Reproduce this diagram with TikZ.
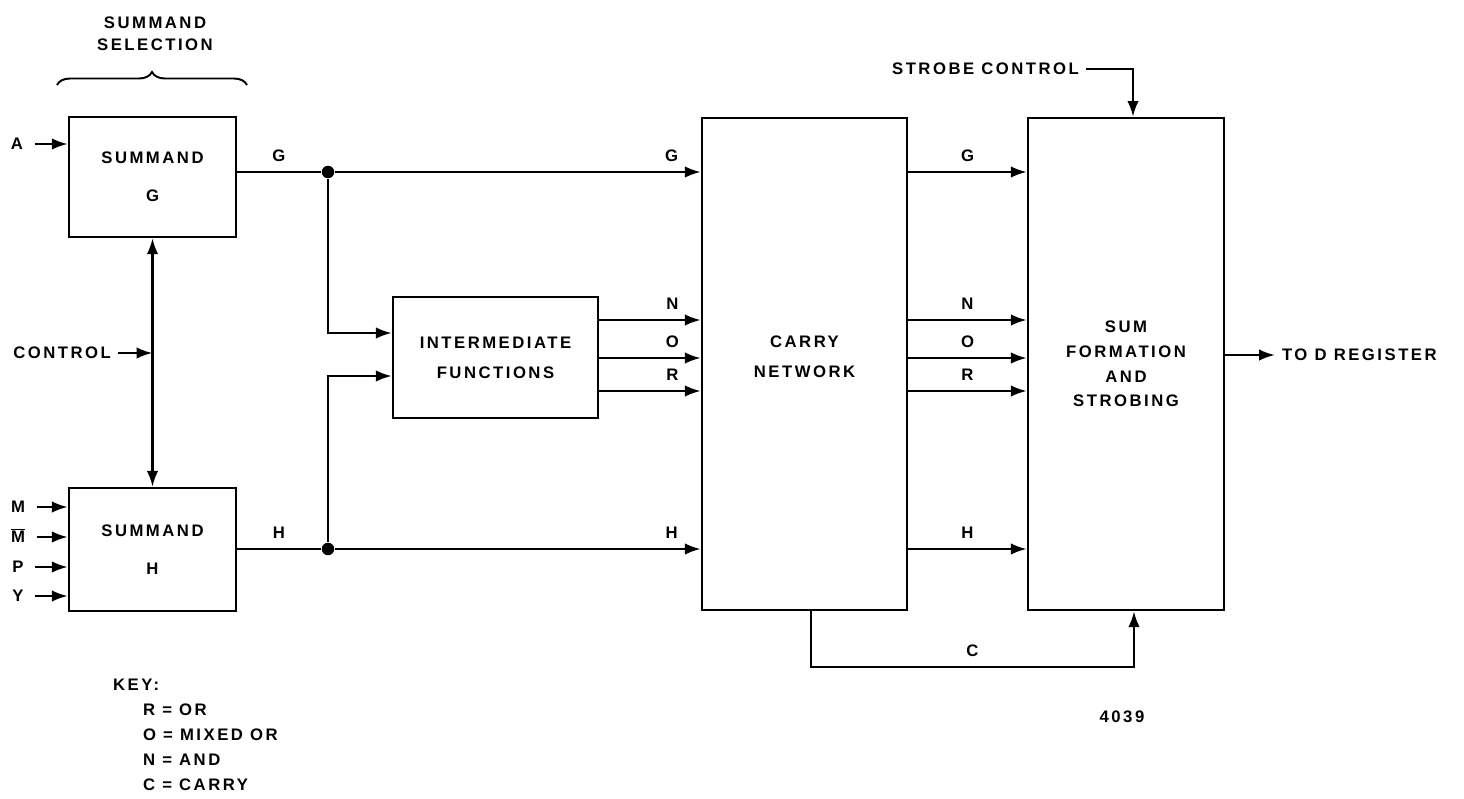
\documentclass[tikz,border=0pt]{standalone}
\usepackage{fontspec}
\setmainfont[LetterSpace=15]{Liberation Sans}
\usetikzlibrary{arrows.meta, positioning, decorations.pathreplacing}

\begin{document}
\begin{tikzpicture}[x=0.02cm, y=-0.02cm, line width=1.4pt,
    >={Latex[length=9pt,width=6.5pt]}, font=\fontsize{9.5}{14}\selectfont\bfseries]
    \tikzstyle{block}=[draw, align=center, inner sep=0pt]
    \tikzstyle{sig}=[above=2pt]
    \tikzstyle{inlab}=[text height=6.8pt, text depth=0pt, inner xsep=6pt]
    \tikzstyle{dot}=[circle, fill, inner sep=0pt, minimum size=0.25cm]

    \useasboundingbox (0,0) rectangle (1464,798);

    % Draw the blocks
    \node[block, minimum width=3.34cm, minimum height=2.4cm] (sumG) at (152.5,177) {SUMMAND\\[7.5pt]G};
    \node[block, minimum width=3.34cm, minimum height=2.46cm] (sumH) at (152.5,549.5) {SUMMAND\\[7.5pt]H};
    \node[block, minimum width=4.1cm, minimum height=2.42cm] (inter) at (495.5,357.5) {INTERMEDIATE\\[3pt]FUNCTIONS};
    \node[block, minimum width=4.1cm, minimum height=9.84cm,
        label={[name=carrytxt, align=center, yshift=0.14cm]center:CARRY\\[3pt]NETWORK}] (carry) at (804.5,364) {};
    \node[block, minimum width=3.92cm, minimum height=9.84cm] (sumf) at (1126,364) {SUM\\FORMATION\\AND\\STROBING};

    % Summand selection brace
    \node[align=center] (selhead) at (155,34) {SUMMAND\\[-1.5pt]SELECTION};
    \draw[decorate, decoration={brace, amplitude=0.26cm}, line width=1.1pt] (57,85) -- (247,85);

    % Inputs of the summand blocks
    \node[inlab] (inA) at (17,144) {A};
    \draw[->] (inA) -- (inA -| sumG.west);
    \foreach \name / \txt / \y in {m/M/507, mbar/{$\overline{\hbox{M}}$}/537, p/P/567, y/Y/596}
    {
        \node[inlab] (in-\name) at (18,\y) {\txt};
        \draw[->] (in-\name) -- (in-\name -| sumH.west);
    }

    % Control between the summand blocks
    \node[anchor=east] (ctrl) at (118,353) {CONTROL};
    \draw[<->] (sumG) -- (sumH);
    \draw[->] (ctrl) -- (ctrl -| sumG.south);

    % G and H to the carry network
    \node[dot] (gdot) at (328,172) {};
    \node[dot] (hdot) at (328,549) {};
    \draw (sumG.east |- gdot) -- node[sig] {G} (gdot);
    \draw (sumH.east |- hdot) -- node[sig] {H} (hdot);
    \draw[->] (gdot) -- node[sig, pos=0.92] {G} (gdot -| carry.west);
    \draw[->] (hdot) -- node[sig, pos=0.92] {H} (hdot -| carry.west);
    \draw[->] (gdot) |- ([yshift=0.49cm]inter.west);
    \draw[->] (hdot) |- ([yshift=-0.37cm]inter.west);

    % Intermediate functions to the carry network
    \foreach \s / \y in {N/320, O/358, R/391}
    {
        \coordinate (lvl-\s) at (650,\y);
        \draw[->] (lvl-\s -| inter.east) -- node[sig, pos=0.72] {\s} (lvl-\s -| carry.west);
    }

    % Carry network to sum formation
    \foreach \s / \y in {G/172, N/320, O/358, R/391, H/549}
    {
        \coordinate (out-\s) at (960,\y);
        \draw[->] (out-\s -| carry.east) -- node[sig] {\s} (out-\s -| sumf.west);
    }
    \draw[->] ([xshift=0.13cm]carry.south) -- ++(0,56) -| node[sig, pos=0.25] {C} ([xshift=0.16cm]sumf.south);

    % Strobe control and output
    \node[anchor=east] (strobe) at (1086,69) {STROBE CONTROL};
    \draw[->] (strobe) -| ([xshift=0.14cm]sumf.north);
    \node[anchor=west] (todreg) at (1275,355) {TO D REGISTER};
    \draw[->] (sumf.east |- todreg) -- (todreg);

    % Key
    \node[anchor=west] (key) at (106,685) {KEY:};
    \foreach \name / \txt / \y in {r/R = OR/710, o/O = MIXED OR/735, n/N = AND/760, c/C = CARRY/785}
        \node[anchor=west] (key-\name) at (136,\y) {\txt};

    \node (fignum) at (1122,717) {4039};
\end{tikzpicture}
\end{document}
